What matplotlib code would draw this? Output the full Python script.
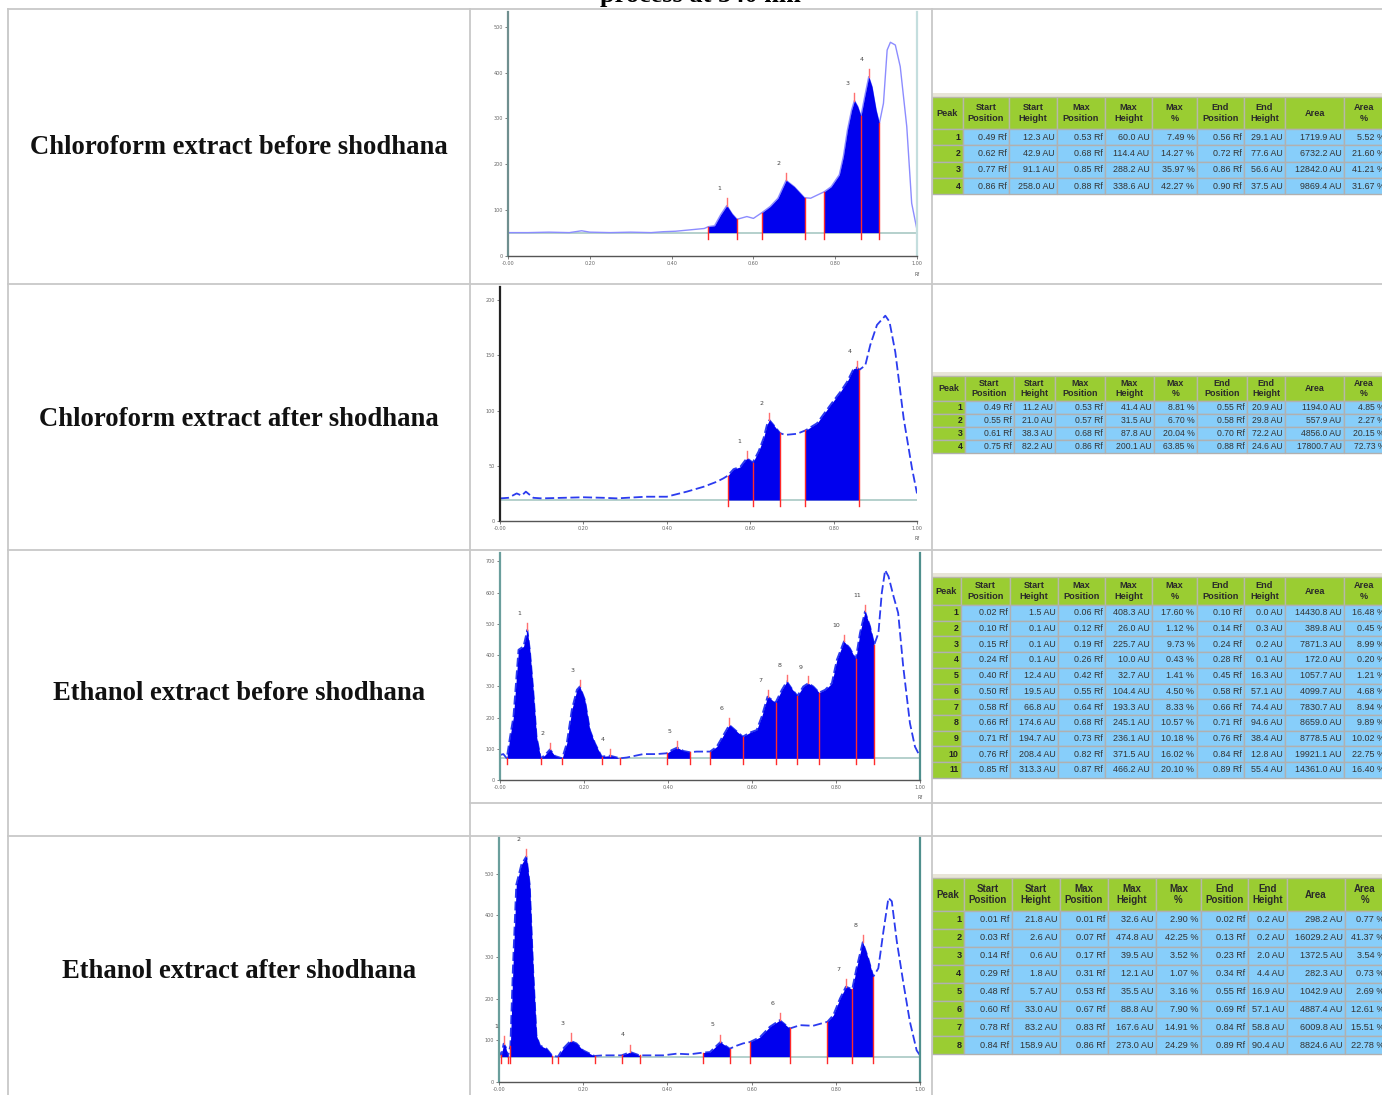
import numpy as np
import matplotlib
matplotlib.use("Agg")
import matplotlib.pyplot as plt
from matplotlib.patches import Rectangle

W, H = 1382, 1095

# ---- row labels
row_labels = [
    "Chloroform extract before shodhana",
    "Chloroform extract after shodhana",
    "Ethanol extract before shodhana",
    "Ethanol extract after shodhana",
]
title_cut = "process at 540 nm"

# ---- chromatogram 1 (chloroform before)
c1_x = [0.0, 0.05, 0.10, 0.15, 0.18, 0.20, 0.25, 0.30, 0.35, 0.38, 0.41, 0.445, 0.48,
        0.49, 0.505, 0.52, 0.535, 0.548, 0.56, 0.584, 0.60, 0.62, 0.641, 0.66, 0.68,
        0.70, 0.725, 0.74, 0.773, 0.79, 0.81, 0.82, 0.83, 0.84, 0.847, 0.855, 0.863,
        0.872, 0.882, 0.89, 0.90, 0.908, 0.918, 0.927, 0.935, 0.947, 0.959, 0.975,
        0.987, 1.0]
c1_y = [51, 51, 52, 51, 55, 52, 51, 52, 51, 53, 54, 57, 60,
        64, 66, 90, 110, 92, 80, 86, 82, 94, 108, 126, 165,
        151, 127, 126, 140, 151, 177, 217, 275, 318, 339, 326, 305,
        347, 391, 369, 318, 289, 333, 449, 466, 460, 413, 282,
        115, 57]
c1_base = 51
c1_ymax = 532
c1_yticks = [0, 100, 200, 300, 400, 500]
c1_ranges = [(0.49, 0.56), (0.62, 0.725), (0.773, 0.863), (0.863, 0.908)]
c1_peaks = [0.535, 0.68, 0.847, 0.882]
c1_names = ["1", "2", "3", "4"]

# ---- chromatogram 2 (chloroform after)
c2_x = [0.0, 0.02, 0.04, 0.052, 0.062, 0.08, 0.10, 0.15, 0.20, 0.25, 0.28, 0.35, 0.40,
        0.41, 0.448, 0.488, 0.52, 0.536, 0.546, 0.56, 0.576, 0.592, 0.606, 0.62, 0.632,
        0.64, 0.646, 0.656, 0.672, 0.684, 0.712, 0.732, 0.76, 0.792, 0.816, 0.832,
        0.848, 0.856, 0.862, 0.876, 0.888, 0.904, 0.924, 0.934, 0.948, 0.968, 0.988, 1.0]
c2_y = [20.5, 21, 25, 23, 26.6, 21, 20.5, 21, 21.5, 21, 20.5, 22, 22,
        23, 26.6, 31, 35.6, 38.7, 41, 47, 49, 57, 53, 63, 75,
        87, 91.5, 87, 79.5, 78, 79, 82, 88.5, 105, 117, 126,
        138, 139, 137, 141, 159.5, 177.6, 186, 180.6, 153, 93, 47.7, 25]
c2_base = 19
c2_ymax = 212
c2_yticks = [0, 50, 100, 150, 200]
c2_ranges = [(0.546, 0.606), (0.606, 0.672), (0.732, 0.862)]
c2_peaks = [0.592, 0.646, 0.856]
c2_names = ["1", "2", "4"]

# ---- chromatogram 3 (ethanol before)
c3_x = [0.0, 0.008, 0.016, 0.024, 0.032, 0.044, 0.056, 0.065, 0.071, 0.079, 0.087, 0.097,
        0.107, 0.119, 0.131, 0.148, 0.159, 0.171, 0.183, 0.19, 0.202, 0.214, 0.226, 0.242,
        0.254, 0.262, 0.286, 0.302, 0.341, 0.373, 0.397, 0.409, 0.422, 0.437, 0.452,
        0.468, 0.50, 0.516, 0.532, 0.546, 0.56, 0.578, 0.595, 0.611, 0.623, 0.637, 0.647,
        0.656, 0.671, 0.683, 0.694, 0.708, 0.722, 0.734, 0.746, 0.76, 0.774, 0.79, 0.802,
        0.819, 0.833, 0.847, 0.857, 0.869, 0.881, 0.891, 0.901, 0.909, 0.917, 0.925,
        0.937, 0.948, 0.96, 0.976, 0.988, 1.0]
c3_y = [80, 83, 69.5, 139, 203, 417, 428, 481, 417, 289, 139, 69.5,
        80, 98, 77, 69.5, 118, 225, 289, 299.5, 257, 160, 118, 75,
        77, 78, 69.5, 72, 83, 83, 85.6, 96, 104, 93, 89,
        91, 91, 107, 144, 176.5, 160, 139, 152, 160, 203, 267, 257,
        248, 289, 315.5, 294, 269.5, 299.5, 310, 299.5, 280, 289, 310, 385,
        444, 422, 387, 470.6, 540, 492, 433, 470.6, 599, 672, 652,
        588, 535, 364, 182, 107, 75]
c3_base = 69.5
c3_ymax = 727
c3_yticks = [0, 100, 200, 300, 400, 500, 600, 700]
c3_ranges = [(0.016, 0.097), (0.097, 0.148), (0.148, 0.242), (0.242, 0.286),
             (0.397, 0.452), (0.50, 0.578), (0.578, 0.656), (0.656, 0.708),
             (0.708, 0.76), (0.76, 0.847), (0.847, 0.891)]
c3_peaks = [0.065, 0.119, 0.19, 0.262, 0.422, 0.546, 0.637, 0.683, 0.734, 0.819, 0.869]
c3_names = ["1", "2", "3", "4", "5", "6", "7", "8", "9", "10", "11"]

# ---- chromatogram 4 (ethanol after)
c4_x = [0.0, 0.0055, 0.011, 0.016, 0.021, 0.027, 0.033, 0.041, 0.053, 0.065, 0.073, 0.081,
        0.089, 0.097, 0.113, 0.127, 0.14, 0.152, 0.17, 0.184, 0.20, 0.227, 0.247, 0.271,
        0.291, 0.312, 0.334, 0.358, 0.39, 0.422, 0.453, 0.485, 0.501, 0.526, 0.548,
        0.564, 0.58, 0.596, 0.62, 0.643, 0.667, 0.691, 0.715, 0.746, 0.78, 0.794, 0.81,
        0.824, 0.839, 0.849, 0.864, 0.877, 0.889, 0.901, 0.913, 0.925, 0.933, 0.945,
        0.96, 0.976, 0.992, 1.0]
c4_y = [74, 64, 92, 84, 61, 87, 273, 474, 522, 542, 474, 273,
        112, 88, 80, 62.6, 61, 80, 99, 92.8, 76, 62.6, 64, 64,
        64, 72, 64, 64, 64, 68, 66.5, 70.7, 72, 96, 80,
        87, 92.8, 96, 108, 132.5, 148.6, 128.5, 136.5, 135, 144.6, 160.6, 200.8,
        229, 223, 273, 335.7, 297, 253, 273, 361, 442, 434, 337,
        241, 144.6, 76, 64]
c4_base = 61
c4_ymax = 586
c4_yticks = [0, 100, 200, 300, 400, 500]
c4_ranges = [(0.0055, 0.021), (0.027, 0.127), (0.14, 0.227), (0.291, 0.334),
             (0.485, 0.548), (0.596, 0.691), (0.78, 0.839), (0.839, 0.889)]
c4_peaks = [0.011, 0.065, 0.17, 0.312, 0.526, 0.667, 0.824, 0.864]
c4_names = ["1", "2", "3", "4", "5", "6", "7", "8"]

x_ticks = [0.0, 0.2, 0.4, 0.6, 0.8, 1.0]
x_tick_labels = ["-0.00", "0.20", "0.40", "0.60", "0.80", "1.00"]

# ---- peak tables
headers = ["Peak", "Start\nPosition", "Start\nHeight", "Max\nPosition", "Max\nHeight",
           "Max\n%", "End\nPosition", "End\nHeight", "Area", "Area\n%"]

t1_rows = [
    ["1", "0.49 Rf", "12.3 AU", "0.53 Rf", "60.0 AU", "7.49 %", "0.56 Rf", "29.1 AU", "1719.9 AU", "5.52 %"],
    ["2", "0.62 Rf", "42.9 AU", "0.68 Rf", "114.4 AU", "14.27 %", "0.72 Rf", "77.6 AU", "6732.2 AU", "21.60 %"],
    ["3", "0.77 Rf", "91.1 AU", "0.85 Rf", "288.2 AU", "35.97 %", "0.86 Rf", "56.6 AU", "12842.0 AU", "41.21 %"],
    ["4", "0.86 Rf", "258.0 AU", "0.88 Rf", "338.6 AU", "42.27 %", "0.90 Rf", "37.5 AU", "9869.4 AU", "31.67 %"],
]
t2_rows = [
    ["1", "0.49 Rf", "11.2 AU", "0.53 Rf", "41.4 AU", "8.81 %", "0.55 Rf", "20.9 AU", "1194.0 AU", "4.85 %"],
    ["2", "0.55 Rf", "21.0 AU", "0.57 Rf", "31.5 AU", "6.70 %", "0.58 Rf", "29.8 AU", "557.9 AU", "2.27 %"],
    ["3", "0.61 Rf", "38.3 AU", "0.68 Rf", "87.8 AU", "20.04 %", "0.70 Rf", "72.2 AU", "4856.0 AU", "20.15 %"],
    ["4", "0.75 Rf", "82.2 AU", "0.86 Rf", "200.1 AU", "63.85 %", "0.88 Rf", "24.6 AU", "17800.7 AU", "72.73 %"],
]
t3_rows = [
    ["1", "0.02 Rf", "1.5 AU", "0.06 Rf", "408.3 AU", "17.60 %", "0.10 Rf", "0.0 AU", "14430.8 AU", "16.48 %"],
    ["2", "0.10 Rf", "0.1 AU", "0.12 Rf", "26.0 AU", "1.12 %", "0.14 Rf", "0.3 AU", "389.8 AU", "0.45 %"],
    ["3", "0.15 Rf", "0.1 AU", "0.19 Rf", "225.7 AU", "9.73 %", "0.24 Rf", "0.2 AU", "7871.3 AU", "8.99 %"],
    ["4", "0.24 Rf", "0.1 AU", "0.26 Rf", "10.0 AU", "0.43 %", "0.28 Rf", "0.1 AU", "172.0 AU", "0.20 %"],
    ["5", "0.40 Rf", "12.4 AU", "0.42 Rf", "32.7 AU", "1.41 %", "0.45 Rf", "16.3 AU", "1057.7 AU", "1.21 %"],
    ["6", "0.50 Rf", "19.5 AU", "0.55 Rf", "104.4 AU", "4.50 %", "0.58 Rf", "57.1 AU", "4099.7 AU", "4.68 %"],
    ["7", "0.58 Rf", "66.8 AU", "0.64 Rf", "193.3 AU", "8.33 %", "0.66 Rf", "74.4 AU", "7830.7 AU", "8.94 %"],
    ["8", "0.66 Rf", "174.6 AU", "0.68 Rf", "245.1 AU", "10.57 %", "0.71 Rf", "94.6 AU", "8659.0 AU", "9.89 %"],
    ["9", "0.71 Rf", "194.7 AU", "0.73 Rf", "236.1 AU", "10.18 %", "0.76 Rf", "38.4 AU", "8778.5 AU", "10.02 %"],
    ["10", "0.76 Rf", "208.4 AU", "0.82 Rf", "371.5 AU", "16.02 %", "0.84 Rf", "12.8 AU", "19921.1 AU", "22.75 %"],
    ["11", "0.85 Rf", "313.3 AU", "0.87 Rf", "466.2 AU", "20.10 %", "0.89 Rf", "55.4 AU", "14361.0 AU", "16.40 %"],
]
t4_rows = [
    ["1", "0.01 Rf", "21.8 AU", "0.01 Rf", "32.6 AU", "2.90 %", "0.02 Rf", "0.2 AU", "298.2 AU", "0.77 %"],
    ["2", "0.03 Rf", "2.6 AU", "0.07 Rf", "474.8 AU", "42.25 %", "0.13 Rf", "0.2 AU", "16029.2 AU", "41.37 %"],
    ["3", "0.14 Rf", "0.6 AU", "0.17 Rf", "39.5 AU", "3.52 %", "0.23 Rf", "2.0 AU", "1372.5 AU", "3.54 %"],
    ["4", "0.29 Rf", "1.8 AU", "0.31 Rf", "12.1 AU", "1.07 %", "0.34 Rf", "4.4 AU", "282.3 AU", "0.73 %"],
    ["5", "0.48 Rf", "5.7 AU", "0.53 Rf", "35.5 AU", "3.16 %", "0.55 Rf", "16.9 AU", "1042.9 AU", "2.69 %"],
    ["6", "0.60 Rf", "33.0 AU", "0.67 Rf", "88.8 AU", "7.90 %", "0.69 Rf", "57.1 AU", "4887.4 AU", "12.61 %"],
    ["7", "0.78 Rf", "83.2 AU", "0.83 Rf", "167.6 AU", "14.91 %", "0.84 Rf", "58.8 AU", "6009.8 AU", "15.51 %"],
    ["8", "0.84 Rf", "158.9 AU", "0.86 Rf", "273.0 AU", "24.29 %", "0.89 Rf", "90.4 AU", "8824.6 AU", "22.78 %"],
]

GREEN = "#9acd32"
BLUE_CELL = "#87cefa"
FILL = "#0000ee"
RED = "#ff2a2a"
LINE = "#c8c8c8"

fig = plt.figure(figsize=(W / 100, H / 100), dpi=100)
ov = fig.add_axes([0, 0, 1, 1])
ov.set_xlim(0, W)
ov.set_ylim(H, 0)
ov.axis("off")

# outer table grid
for y in [9, 284, 550, 836]:
    ov.plot([8, W], [y, y], color=LINE, lw=1.3)
ov.plot([470, W], [803, 803], color=LINE, lw=1.3)
for x in [8, 470, 932]:
    ov.plot([x, x], [9, H], color=LINE, lw=1.3)

# title of the page above, mostly cut off in the source
ov.text(700, 2, title_cut, ha="center", va="baseline", fontsize=19,
        fontweight="bold", family="Liberation Serif")

for lab, yc in zip(row_labels, [147, 419, 693, 972]):
    ov.text(239, yc, lab, ha="center", va="center", fontsize=19.2,
            fontweight="bold", family="Liberation Serif", color="#111")


def draw_table(top, head_h, row_h, edges, rows, fs, hfs):
    ov.add_patch(Rectangle((edges[0], top - 4), edges[-1] - edges[0], 4,
                           facecolor="#e8e5d8", edgecolor="none"))
    for j in range(len(edges) - 1):
        x0, x1 = edges[j], edges[j + 1]
        ov.add_patch(Rectangle((x0, top), x1 - x0, head_h, facecolor=GREEN,
                               edgecolor="#b8b8a8", lw=1.0))
        xc = (x0 + x1) / 2 if j < len(edges) - 2 else x0 + 20
        ov.text(xc, top + head_h / 2, headers[j], ha="center", va="center",
                fontsize=hfs, fontweight="bold", color="#2a2a2a",
                family="Liberation Sans", linespacing=1.15)
    for i, row in enumerate(rows):
        y0 = top + head_h + i * row_h
        for j in range(len(edges) - 1):
            x0, x1 = edges[j], edges[j + 1]
            fc = GREEN if j == 0 else BLUE_CELL
            ov.add_patch(Rectangle((x0, y0), x1 - x0, row_h, facecolor=fc,
                                   edgecolor="#b0b0b0", lw=1.0))
            xr = x1 - 2.5 if j < len(edges) - 2 else 1385
            ov.text(xr, y0 + row_h / 2, row[j], ha="right", va="center", fontsize=fs,
                    color="#222" if j == 0 else "#333", family="Liberation Sans",
                    fontweight="bold" if j == 0 else "normal")


draw_table(97, 32, 16.3, [932, 963, 1009, 1057, 1105, 1152, 1197, 1244, 1285, 1344, 1400],
           t1_rows, 6.4, 6.6)
draw_table(376, 25, 13, [932, 965, 1014, 1055, 1105, 1154, 1197, 1247, 1285, 1344, 1400],
           t2_rows, 6.2, 6.4)
draw_table(577, 28, 15.7, [932, 961, 1010, 1058, 1105, 1152, 1197, 1244, 1285, 1344, 1400],
           t3_rows, 6.4, 6.6)
draw_table(878, 33, 17.9, [932, 964, 1012, 1060, 1108, 1156, 1201, 1248, 1287, 1345, 1400],
           t4_rows, 6.6, 7.0)


def px_rect(x0, x1, ytop, ybot):
    return [x0 / W, 1 - ybot / H, (x1 - x0) / W, (ybot - ytop) / H]


def draw_chrom(rect, xs, ys, base, ymax, yticks, ranges, peaks, names,
               line_style, left_col, right_col):
    ax = fig.add_axes(rect)
    ax.set_facecolor("none")
    xs = np.asarray(xs, float)
    ys = np.asarray(ys, float)
    ax.set_xlim(0, 1)
    ax.set_ylim(0, ymax)
    ax.axhline(base, color="#a8c8c4", lw=1.2, zorder=1)
    if line_style == "solid":
        ax.plot(xs, ys, color="#8c8cff", lw=1.0, zorder=2)
    else:
        ax.plot(xs, ys, color="#2b3bef", lw=1.3, dashes=(5, 2), zorder=2)
    for s, e in ranges:
        m = (xs >= s - 1e-9) & (xs <= e + 1e-9)
        ax.fill_between(xs, ys, base, where=m, color=FILL, lw=0, zorder=3)
    bounds = sorted(set([r[0] for r in ranges] + [r[1] for r in ranges]))
    for b in bounds:
        yb = ys[np.argmin(np.abs(xs - b))]
        ax.plot([b, b], [base - 0.025 * ymax, yb], color=RED, lw=1.0, zorder=4)
    for p, nm in zip(peaks, names):
        yp = ys[np.argmin(np.abs(xs - p))]
        ax.plot([p, p], [yp, yp + 0.03 * ymax], color="#ff7070", lw=1.0, zorder=4)
        ax.text(p - 0.018, yp + 0.07 * ymax, nm, fontsize=4.5, color="#444",
                ha="center", va="center", zorder=5)
    ax.spines["top"].set_visible(False)
    ax.spines["left"].set_color(left_col)
    ax.spines["left"].set_linewidth(1.6)
    ax.spines["bottom"].set_color("#555")
    ax.spines["bottom"].set_linewidth(1.0)
    if right_col is None:
        ax.spines["right"].set_visible(False)
    else:
        ax.spines["right"].set_color(right_col)
        ax.spines["right"].set_linewidth(1.6)
    ax.set_yticks(yticks)
    ax.set_yticklabels([str(t) for t in yticks])
    ax.set_xticks(x_ticks)
    ax.set_xticklabels(x_tick_labels)
    ax.tick_params(axis="both", labelsize=3.5, colors="#666", length=2, width=0.6, pad=1.5)
    ax.text(1.0, -0.075, "Rf", transform=ax.transAxes, fontsize=3.5, color="#555",
            ha="center", va="center")
    return ax


draw_chrom(px_rect(508, 917, 12, 256), c1_x, c1_y, c1_base, c1_ymax, c1_yticks,
           c1_ranges, c1_peaks, c1_names, "solid", "#6f8f8f", "#c4dede")
draw_chrom(px_rect(500, 917, 287, 521), c2_x, c2_y, c2_base, c2_ymax, c2_yticks,
           c2_ranges, c2_peaks, c2_names, "dashed", "#222222", None)
draw_chrom(px_rect(500, 920, 553, 780), c3_x, c3_y, c3_base, c3_ymax, c3_yticks,
           c3_ranges, c3_peaks, c3_names, "dashed", "#6a9e9c", "#4f8f8d")
draw_chrom(px_rect(499, 920, 838, 1082), c4_x, c4_y, c4_base, c4_ymax, c4_yticks,
           c4_ranges, c4_peaks, c4_names, "dashed", "#6a9e9c", "#4f8f8d")

fig.savefig("out.png", dpi=100)
